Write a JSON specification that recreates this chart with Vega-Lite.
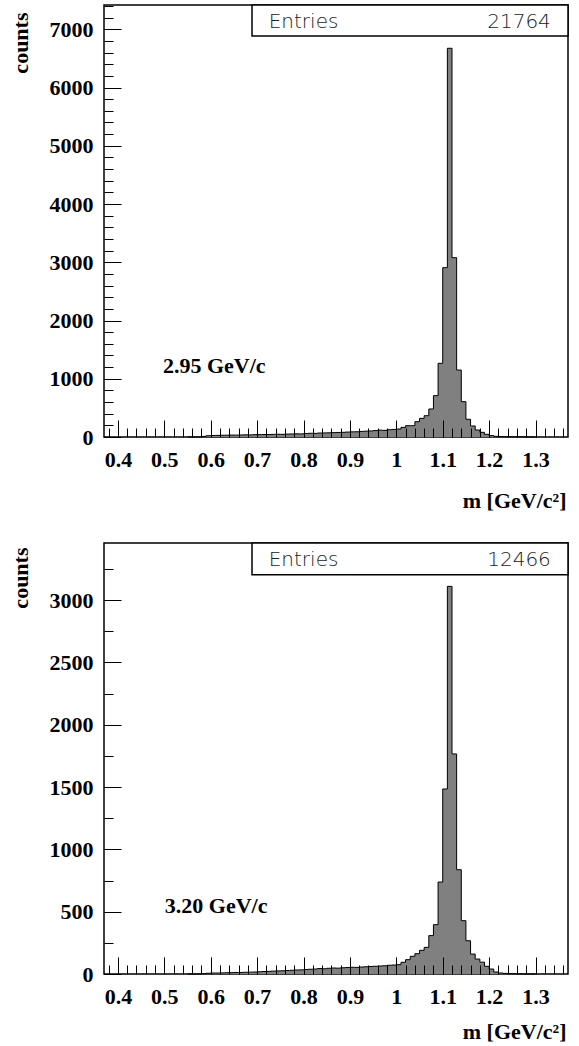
{
  "$schema": "https://vega.github.io/schema/vega-lite/v6.json",
  "padding": {"left": 8, "top": 3, "right": 5, "bottom": 0},
  "spacing": 106,
  "bounds": "flush",
  "config": {
    "view": {"stroke": "black", "strokeWidth": 1.5},
    "axis": {"grid": false, "domain": false, "labelColor": "black", "tickColor": "black", "titleColor": "black",
             "labelFont": "Liberation Serif", "labelFontWeight": "bold", "labelFontSize": 22,
             "titleFont": "Liberation Serif", "titleFontWeight": "bold", "titleFontSize": 22,
             "labelFlush": false, "labelOverlap": false, "labelBound": false}
  },
  "datasets": {
    "p1": [
      {"lo":0.55,"n":0},{"lo":0.56,"n":0},{"lo":0.57,"n":0},{"lo":0.58,"n":10},
      {"lo":0.59,"n":22},{"lo":0.60,"n":26},{"lo":0.61,"n":28},{"lo":0.62,"n":30},
      {"lo":0.63,"n":31},{"lo":0.64,"n":33},{"lo":0.65,"n":32},{"lo":0.66,"n":35},
      {"lo":0.67,"n":37},{"lo":0.68,"n":36},{"lo":0.69,"n":40},{"lo":0.70,"n":41},
      {"lo":0.71,"n":43},{"lo":0.72,"n":42},{"lo":0.73,"n":45},{"lo":0.74,"n":47},
      {"lo":0.75,"n":46},{"lo":0.76,"n":50},{"lo":0.77,"n":52},{"lo":0.78,"n":55},
      {"lo":0.79,"n":53},{"lo":0.80,"n":60},{"lo":0.81,"n":64},{"lo":0.82,"n":62},
      {"lo":0.83,"n":68},{"lo":0.84,"n":70},{"lo":0.85,"n":72},{"lo":0.86,"n":75},
      {"lo":0.87,"n":78},{"lo":0.88,"n":80},{"lo":0.89,"n":85},{"lo":0.90,"n":88},
      {"lo":0.91,"n":90},{"lo":0.92,"n":96},{"lo":0.93,"n":100},{"lo":0.94,"n":104},
      {"lo":0.95,"n":110},{"lo":0.96,"n":118},{"lo":0.97,"n":114},{"lo":0.98,"n":125},
      {"lo":0.99,"n":130},{"lo":1.00,"n":137},{"lo":1.01,"n":166},{"lo":1.02,"n":194},
      {"lo":1.03,"n":194},{"lo":1.04,"n":263},{"lo":1.05,"n":320},{"lo":1.06,"n":366},
      {"lo":1.07,"n":481},{"lo":1.08,"n":710},{"lo":1.09,"n":1265},{"lo":1.10,"n":2907},
      {"lo":1.11,"n":6674},{"lo":1.12,"n":3079},{"lo":1.13,"n":1150},{"lo":1.14,"n":607},
      {"lo":1.15,"n":304},{"lo":1.16,"n":189},{"lo":1.17,"n":120},{"lo":1.18,"n":80},
      {"lo":1.19,"n":46},{"lo":1.20,"n":24},{"lo":1.21,"n":12},{"lo":1.22,"n":8},
      {"lo":1.23,"n":5},{"lo":1.24,"n":4},{"lo":1.25,"n":3},{"lo":1.26,"n":2},
      {"lo":1.27,"n":2},{"lo":1.28,"n":1},{"lo":1.29,"n":0},{"lo":1.30,"n":0}
    ],
    "p2": [
      {"lo":0.55,"n":0},{"lo":0.56,"n":0},{"lo":0.57,"n":0},{"lo":0.58,"n":3},
      {"lo":0.59,"n":6},{"lo":0.60,"n":8},{"lo":0.61,"n":8},{"lo":0.62,"n":9},
      {"lo":0.63,"n":10},{"lo":0.64,"n":11},{"lo":0.65,"n":12},{"lo":0.66,"n":12},
      {"lo":0.67,"n":14},{"lo":0.68,"n":15},{"lo":0.69,"n":16},{"lo":0.70,"n":18},
      {"lo":0.71,"n":20},{"lo":0.72,"n":21},{"lo":0.73,"n":23},{"lo":0.74,"n":25},
      {"lo":0.75,"n":26},{"lo":0.76,"n":28},{"lo":0.77,"n":30},{"lo":0.78,"n":32},
      {"lo":0.79,"n":33},{"lo":0.80,"n":36},{"lo":0.81,"n":38},{"lo":0.82,"n":40},
      {"lo":0.83,"n":44},{"lo":0.84,"n":42},{"lo":0.85,"n":46},{"lo":0.86,"n":48},
      {"lo":0.87,"n":47},{"lo":0.88,"n":50},{"lo":0.89,"n":52},{"lo":0.90,"n":54},
      {"lo":0.91,"n":53},{"lo":0.92,"n":56},{"lo":0.93,"n":58},{"lo":0.94,"n":60},
      {"lo":0.95,"n":62},{"lo":0.96,"n":64},{"lo":0.97,"n":66},{"lo":0.98,"n":70},
      {"lo":0.99,"n":72},{"lo":1.00,"n":75},{"lo":1.01,"n":94},{"lo":1.02,"n":115},
      {"lo":1.03,"n":142},{"lo":1.04,"n":163},{"lo":1.05,"n":190},{"lo":1.06,"n":214},
      {"lo":1.07,"n":308},{"lo":1.08,"n":396},{"lo":1.09,"n":738},{"lo":1.10,"n":1485},
      {"lo":1.11,"n":3111},{"lo":1.12,"n":1766},{"lo":1.13,"n":837},{"lo":1.14,"n":428},
      {"lo":1.15,"n":267},{"lo":1.16,"n":160},{"lo":1.17,"n":120},{"lo":1.18,"n":95},
      {"lo":1.19,"n":62},{"lo":1.20,"n":40},{"lo":1.21,"n":16},{"lo":1.22,"n":8},
      {"lo":1.23,"n":5},{"lo":1.24,"n":3},{"lo":1.25,"n":2},{"lo":1.26,"n":1},
      {"lo":1.27,"n":0},{"lo":1.28,"n":0},{"lo":1.29,"n":0},{"lo":1.30,"n":0}
    ]
  },
  "vconcat": [
    {
      "width": 464, "height": 432,
      "resolve": {"axis": {"x": "independent", "y": "independent"}},
      "layer": [
        {
          "data": {"name": "p1"},
          "mark": {"type": "area", "interpolate": "step-after", "fill": "#808080"},
          "encoding": {
            "x": {"field": "lo", "type": "quantitative", "scale": {"domain": [0.37, 1.37], "nice": false, "zero": false},
                  "axis": {"orient": "bottom", "values": [0.4,0.5,0.6,0.7,0.8,0.9,1,1.1,1.2,1.3], "format": "~g", "ticks": false,
                           "labelPadding": 12, "title": "m  [GeV/c²]", "titleAlign": "right", "titleBaseline": "alphabetic", "titleX": 462, "titleY": 70}},
            "y": {"field": "n", "type": "quantitative", "scale": {"domain": [0, 7417], "nice": false},
                  "axis": {"orient": "left", "values": [0,1000,2000,3000,4000,5000,6000,7000], "format": "d", "ticks": false,
                           "labelPadding": 11, "title": "counts", "titleAngle": 270, "titleAlign": "right", "titleBaseline": "alphabetic", "titleX": -77, "titleY": 7}}
          }
        },
        {
          "data": {"name": "p1"},
          "mark": {"type": "line", "interpolate": "step-after", "stroke": "black", "strokeWidth": 1},
          "encoding": {
            "x": {"field": "lo", "type": "quantitative",
                  "axis": {"orient": "bottom", "values": [0.4,0.5,0.6,0.7,0.8,0.9,1,1.1,1.2,1.3], "labels": false, "ticks": true, "tickSize": 17, "offset": -17, "tickWidth": 1, "title": null, "zindex": 2}},
            "y": {"field": "n", "type": "quantitative",
                  "axis": {"orient": "left", "values": [0,1000,2000,3000,4000,5000,6000,7000], "labels": false, "ticks": true, "tickSize": 17, "offset": -17, "tickWidth": 1, "title": null, "zindex": 2}}
          }
        },
        {
          "data": {"name": "p1"},
          "mark": {"type": "point", "opacity": 0},
          "encoding": {
            "x": {"field": "lo", "type": "quantitative",
                  "axis": {"orient": "bottom", "values": [0.38,0.4,0.42,0.44,0.46,0.48,0.5,0.52,0.54,0.56,0.58,0.6,0.62,0.64,0.66,0.68,0.7,0.72,0.74,0.76,0.78,0.8,0.82,0.84,0.86,0.88,0.9,0.92,0.94,0.96,0.98,1,1.02,1.04,1.06,1.08,1.1,1.12,1.14,1.16,1.18,1.2,1.22,1.24,1.26,1.28,1.3,1.32,1.34,1.36],
                           "labels": false, "ticks": true, "tickSize": 9, "offset": -9, "tickWidth": 1, "title": null, "zindex": 2}},
            "y": {"field": "n", "type": "quantitative",
                  "axis": {"orient": "left", "values": [0,200,400,600,800,1000,1200,1400,1600,1800,2000,2200,2400,2600,2800,3000,3200,3400,3600,3800,4000,4200,4400,4600,4800,5000,5200,5400,5600,5800,6000,6200,6400,6600,6800,7000,7200,7400],
                           "labels": false, "ticks": true, "tickSize": 9, "offset": -9, "tickWidth": 1, "title": null, "zindex": 2}}
          }
        },
        {
          "data": {"values": [{}]},
          "mark": {"type": "rect", "fill": "white", "stroke": "black", "strokeWidth": 1.5},
          "encoding": {
            "x": {"datum": 0.689, "type": "quantitative", "axis": null}, "x2": {"datum": 1.37},
            "y": {"datum": 7417, "type": "quantitative", "axis": null}, "y2": {"datum": 6885}
          }
        },
        {
          "data": {"values": [{"label": "Entries", "stat": "21764"}]},
          "mark": {"type": "text", "font": "DejaVu Sans", "fontSize": 20, "fontWeight": 200, "fill": "#222", "align": "left", "baseline": "middle"},
          "encoding": {
            "x": {"datum": 0.725, "type": "quantitative", "axis": null},
            "y": {"datum": 7130, "type": "quantitative", "axis": null},
            "text": {"field": "label"}
          }
        },
        {
          "data": {"values": [{"label": "Entries", "stat": "21764"}]},
          "mark": {"type": "text", "font": "DejaVu Sans", "fontSize": 20, "fontWeight": 200, "fill": "#222", "align": "right", "baseline": "middle"},
          "encoding": {
            "x": {"datum": 1.333, "type": "quantitative", "axis": null},
            "y": {"datum": 7130, "type": "quantitative", "axis": null},
            "text": {"field": "stat"}
          }
        },
        {
          "data": {"values": [{"label": "2.95 GeV/c"}]},
          "mark": {"type": "text", "font": "Liberation Serif", "fontSize": 22, "fontWeight": "bold", "fill": "black", "align": "left", "baseline": "alphabetic"},
          "encoding": {
            "x": {"datum": 0.497, "type": "quantitative", "axis": null},
            "y": {"datum": 1099, "type": "quantitative", "axis": null},
            "text": {"field": "label"}
          }
        }
      ]
    },
    {
      "width": 464, "height": 431,
      "resolve": {"axis": {"x": "independent", "y": "independent"}},
      "layer": [
        {
          "data": {"name": "p2"},
          "mark": {"type": "area", "interpolate": "step-after", "fill": "#808080"},
          "encoding": {
            "x": {"field": "lo", "type": "quantitative", "scale": {"domain": [0.37, 1.37], "nice": false, "zero": false},
                  "axis": {"orient": "bottom", "values": [0.4,0.5,0.6,0.7,0.8,0.9,1,1.1,1.2,1.3], "format": "~g", "ticks": false,
                           "labelPadding": 12, "title": "m  [GeV/c²]", "titleAlign": "right", "titleBaseline": "alphabetic", "titleX": 462, "titleY": 64}},
            "y": {"field": "n", "type": "quantitative", "scale": {"domain": [0, 3459], "nice": false},
                  "axis": {"orient": "left", "values": [0,500,1000,1500,2000,2500,3000], "format": "d", "ticks": false,
                           "labelPadding": 11, "title": "counts", "titleAngle": 270, "titleAlign": "right", "titleBaseline": "alphabetic", "titleX": -77, "titleY": 4}}
          }
        },
        {
          "data": {"name": "p2"},
          "mark": {"type": "line", "interpolate": "step-after", "stroke": "black", "strokeWidth": 1},
          "encoding": {
            "x": {"field": "lo", "type": "quantitative",
                  "axis": {"orient": "bottom", "values": [0.4,0.5,0.6,0.7,0.8,0.9,1,1.1,1.2,1.3], "labels": false, "ticks": true, "tickSize": 17, "offset": -17, "tickWidth": 1, "title": null, "zindex": 2}},
            "y": {"field": "n", "type": "quantitative",
                  "axis": {"orient": "left", "values": [0,500,1000,1500,2000,2500,3000], "labels": false, "ticks": true, "tickSize": 17, "offset": -17, "tickWidth": 1, "title": null, "zindex": 2}}
          }
        },
        {
          "data": {"name": "p2"},
          "mark": {"type": "point", "opacity": 0},
          "encoding": {
            "x": {"field": "lo", "type": "quantitative",
                  "axis": {"orient": "bottom", "values": [0.38,0.4,0.42,0.44,0.46,0.48,0.5,0.52,0.54,0.56,0.58,0.6,0.62,0.64,0.66,0.68,0.7,0.72,0.74,0.76,0.78,0.8,0.82,0.84,0.86,0.88,0.9,0.92,0.94,0.96,0.98,1,1.02,1.04,1.06,1.08,1.1,1.12,1.14,1.16,1.18,1.2,1.22,1.24,1.26,1.28,1.3,1.32,1.34,1.36],
                           "labels": false, "ticks": true, "tickSize": 9, "offset": -9, "tickWidth": 1, "title": null, "zindex": 2}},
            "y": {"field": "n", "type": "quantitative",
                  "axis": {"orient": "left", "values": [0,250,500,750,1000,1250,1500,1750,2000,2250,2500,2750,3000,3250],
                           "labels": false, "ticks": true, "tickSize": 9, "offset": -9, "tickWidth": 1, "title": null, "zindex": 2}}
          }
        },
        {
          "data": {"values": [{}]},
          "mark": {"type": "rect", "fill": "white", "stroke": "black", "strokeWidth": 1.5},
          "encoding": {
            "x": {"datum": 0.689, "type": "quantitative", "axis": null}, "x2": {"datum": 1.37},
            "y": {"datum": 3459, "type": "quantitative", "axis": null}, "y2": {"datum": 3205}
          }
        },
        {
          "data": {"values": [{"label": "Entries", "stat": "12466"}]},
          "mark": {"type": "text", "font": "DejaVu Sans", "fontSize": 20, "fontWeight": 200, "fill": "#222", "align": "left", "baseline": "middle"},
          "encoding": {
            "x": {"datum": 0.725, "type": "quantitative", "axis": null},
            "y": {"datum": 3325, "type": "quantitative", "axis": null},
            "text": {"field": "label"}
          }
        },
        {
          "data": {"values": [{"label": "Entries", "stat": "12466"}]},
          "mark": {"type": "text", "font": "DejaVu Sans", "fontSize": 20, "fontWeight": 200, "fill": "#222", "align": "right", "baseline": "middle"},
          "encoding": {
            "x": {"datum": 1.333, "type": "quantitative", "axis": null},
            "y": {"datum": 3325, "type": "quantitative", "axis": null},
            "text": {"field": "stat"}
          }
        },
        {
          "data": {"values": [{"label": "3.20 GeV/c"}]},
          "mark": {"type": "text", "font": "Liberation Serif", "fontSize": 22, "fontWeight": "bold", "fill": "black", "align": "left", "baseline": "alphabetic"},
          "encoding": {
            "x": {"datum": 0.501, "type": "quantitative", "axis": null},
            "y": {"datum": 492, "type": "quantitative", "axis": null},
            "text": {"field": "label"}
          }
        }
      ]
    }
  ]
}
